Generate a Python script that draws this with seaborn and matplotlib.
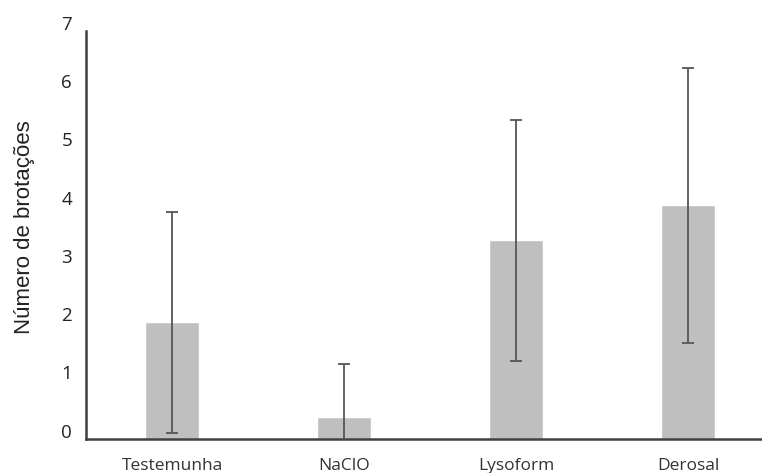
import matplotlib
matplotlib.use("Agg")
import matplotlib.pyplot as plt
import matplotlib.transforms as mtransforms
import seaborn as sns
import pandas as pd

categories = ["Testemunha", "NaClO", "Lysoform", "Derosal"]
means = [2.0, 0.38, 3.41, 4.01]
sds = [1.89, 0.90, 2.07, 2.36]
yticks = [0, 1, 2, 3, 4, 5, 6, 7]
ylabel = "Número de brotações"

df = pd.DataFrame({"trat": categories, "val": means})

sns.set_style("white")
plt.rcParams['font.family'] = ['Open Sans', 'DejaVu Sans']

fig = plt.figure(figsize=(7.62, 4.73), dpi=100)
ax = fig.add_axes([86/762, 34/473, 1 - 86/762, 408/473])

sns.barplot(data=df, x="trat", y="val", color="#bfbfbf", saturation=1,
            width=0.31, errorbar=None, ax=ax, zorder=2)
ax.errorbar(range(len(categories)), means, yerr=sds, fmt="none",
            ecolor="#555555", elinewidth=1.3, capsize=4.5, capthick=1.3, zorder=3)

ax.set_xlim(-0.5, 3.43)
ax.set_ylim(0, 7)
ax.set_yticks(yticks)
ax.set_yticklabels([str(t) for t in yticks], fontsize=13.5, color="#222222")
ax.tick_params(axis="x", labelsize=12.5, colors="#333333", length=0, pad=14)
ax.tick_params(axis="y", length=0, pad=10)
offset = mtransforms.ScaledTranslation(0, 6/72, fig.dpi_scale_trans)
for lab in ax.get_yticklabels():
    lab.set_transform(lab.get_transform() + offset)

ax.set_xlabel("")
ax.set_ylabel(ylabel, fontsize=16, family=["Liberation Sans", "DejaVu Sans"],
              color="#222222")
ax.yaxis.set_label_coords(-0.075, 0.52)

for s in ["top", "right"]:
    ax.spines[s].set_visible(False)
for s in ["left", "bottom"]:
    ax.spines[s].set_color("#404040")
    ax.spines[s].set_linewidth(1.8)

fig.savefig("out.png", dpi=100)
